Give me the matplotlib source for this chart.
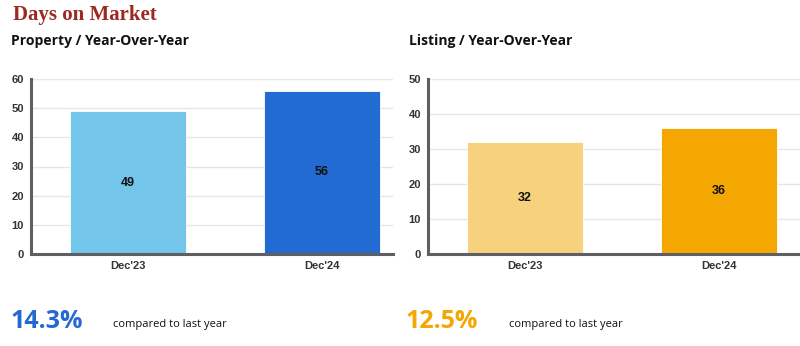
import matplotlib.pyplot as plt

# Days on market, December year-over-year
categories = ["Dec'23", "Dec'24"]
property_days = [49, 56]
listing_days = [32, 36]
property_change = "14.3%"
listing_change = "12.5%"

property_colors = ["#73c5ea", "#226bd3"]
listing_colors = ["#f6d17e", "#f4a700"]

fig = plt.figure(figsize=(8, 3.46), dpi=100)

H = 346.0


def panel(left_px, right_px, values, colors, ymax):
    ax = fig.add_axes([left_px / 800, (H - 254) / H, (right_px - left_px) / 800, 175 / H])
    x = list(range(len(categories)))
    ax.bar(x, values, width=0.6, color=colors, edgecolor="white", linewidth=0.6, zorder=2)
    for xi, v in zip(x, values):
        ax.text(xi, v / 2, str(v), ha="center", va="center", fontsize=9,
                fontweight="bold", color="#111111", family="Liberation Sans")
    ax.set_xlim(-0.5, -0.5 + (right_px - left_px) / 194)
    ax.set_ylim(0, ymax)
    ax.set_yticks(range(0, ymax + 1, 10))
    ax.set_xticks(x)
    ax.set_xticklabels(categories)
    ax.grid(axis="y", color="#e6e6e6", linewidth=1, zorder=0)
    ax.set_axisbelow(True)
    for s in ["top", "right"]:
        ax.spines[s].set_visible(False)
    for s in ["left", "bottom"]:
        ax.spines[s].set_color("#5f5f63")
        ax.spines[s].set_linewidth(2.2)
    ax.tick_params(length=0, pad=5, labelsize=8, labelcolor="#333333")
    for lab in ax.get_xticklabels() + ax.get_yticklabels():
        lab.set_fontweight("bold")
        lab.set_family("Liberation Sans")
    return ax


panel(31, 393, property_days, property_colors, 60)
panel(428, 800, listing_days, listing_colors, 50)

# headings
fig.text(13 / 800, 1 - 15 / H, "Days on Market", fontsize=15, fontweight="bold",
         family="Liberation Serif", color="#9b2a22", va="center")
fig.text(11 / 800, 1 - 41 / H, "Property / Year-Over-Year", fontsize=10,
         fontweight="bold", family="Open Sans", color="#111111", va="center")
fig.text(409 / 800, 1 - 41 / H, "Listing / Year-Over-Year", fontsize=10,
         fontweight="bold", family="Open Sans", color="#111111", va="center")

# change summaries
fig.text(11 / 800, 1 - 321 / H, property_change, fontsize=18, fontweight="bold",
         family="Open Sans", color="#2469d3", va="center")
fig.text(113 / 800, 1 - 324 / H, "compared to last year", fontsize=8,
         family="Open Sans", color="#111111", va="center")
fig.text(406 / 800, 1 - 321 / H, listing_change, fontsize=18, fontweight="bold",
         family="Open Sans", color="#f4a700", va="center")
fig.text(509 / 800, 1 - 324 / H, "compared to last year", fontsize=8,
         family="Open Sans", color="#111111", va="center")

fig.savefig("out.png", dpi=100)
